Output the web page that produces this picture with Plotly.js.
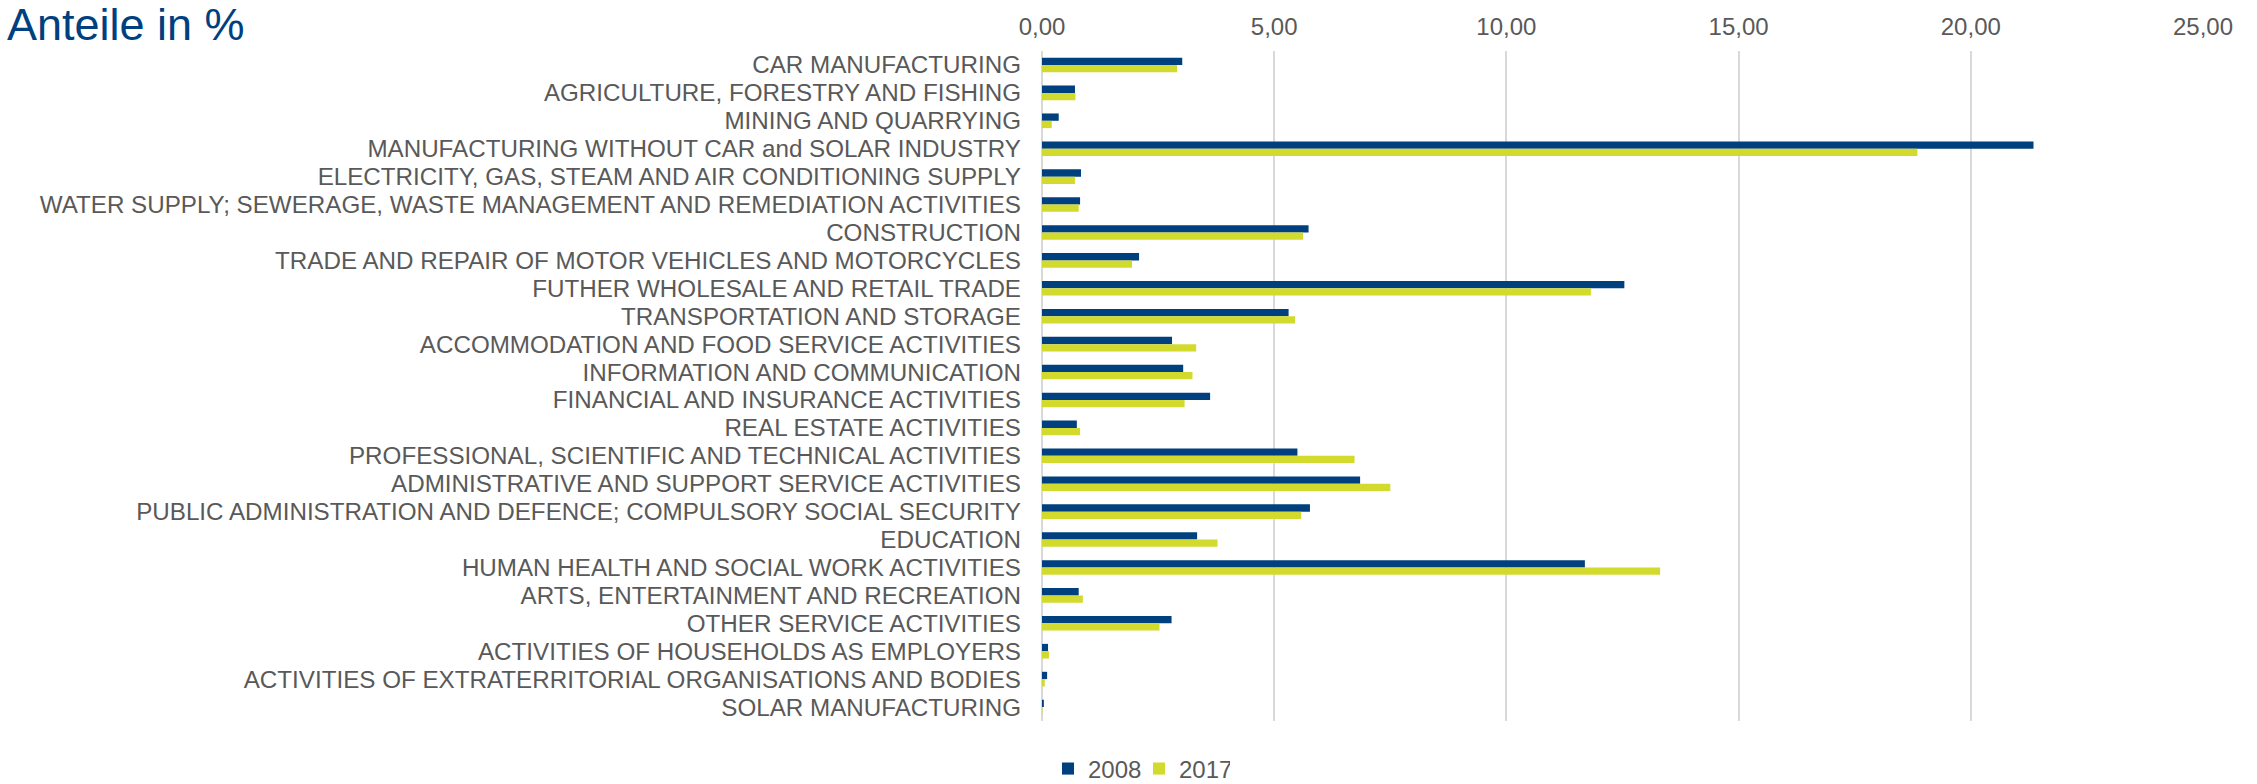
<!DOCTYPE html>
<html>
<head>
<meta charset="utf-8">
<script src="https://cdn.plot.ly/plotly-3.0.1.min.js"></script>
<style>html,body{margin:0;padding:0;background:#fff;}#chart{width:2257px;height:784px;}</style>
</head>
<body>
<div id="chart"></div>
<script>
const categories = [
  "CAR MANUFACTURING",
  "AGRICULTURE, FORESTRY AND FISHING",
  "MINING AND QUARRYING",
  "MANUFACTURING WITHOUT CAR and SOLAR INDUSTRY",
  "ELECTRICITY, GAS, STEAM AND AIR CONDITIONING SUPPLY",
  "WATER SUPPLY; SEWERAGE, WASTE MANAGEMENT AND REMEDIATION ACTIVITIES",
  "CONSTRUCTION",
  "TRADE AND REPAIR OF MOTOR VEHICLES AND MOTORCYCLES",
  "FUTHER WHOLESALE AND RETAIL TRADE",
  "TRANSPORTATION AND STORAGE",
  "ACCOMMODATION AND FOOD SERVICE ACTIVITIES",
  "INFORMATION AND COMMUNICATION",
  "FINANCIAL AND INSURANCE ACTIVITIES",
  "REAL ESTATE ACTIVITIES",
  "PROFESSIONAL, SCIENTIFIC AND TECHNICAL ACTIVITIES",
  "ADMINISTRATIVE AND SUPPORT SERVICE ACTIVITIES",
  "PUBLIC ADMINISTRATION AND DEFENCE; COMPULSORY SOCIAL SECURITY",
  "EDUCATION",
  "HUMAN HEALTH AND SOCIAL WORK ACTIVITIES",
  "ARTS, ENTERTAINMENT AND RECREATION",
  "OTHER SERVICE ACTIVITIES",
  "ACTIVITIES OF HOUSEHOLDS AS EMPLOYERS",
  "ACTIVITIES OF EXTRATERRITORIAL ORGANISATIONS AND BODIES",
  "SOLAR MANUFACTURING"
];
const values2008 = [3.02, 0.71, 0.36, 21.35, 0.84, 0.82, 5.74, 2.09, 12.54, 5.31, 2.80, 3.04, 3.62, 0.75, 5.50, 6.85, 5.77, 3.34, 11.69, 0.79, 2.79, 0.13, 0.11, 0.04];
const values2017 = [2.91, 0.72, 0.21, 18.85, 0.71, 0.79, 5.62, 1.94, 11.82, 5.45, 3.32, 3.24, 3.07, 0.82, 6.73, 7.50, 5.58, 3.78, 13.31, 0.88, 2.53, 0.15, 0.06, 0.01];
const seriesNames = ["2008", "2017"];
const xTicks = [0, 5, 10, 15, 20, 25];

const textColor = "#595959";
const traces = [
  {type: "bar", orientation: "h", name: seriesNames[0], y: categories, x: values2008,
   marker: {color: "#00407F"}, hoverinfo: "x+y"},
  {type: "bar", orientation: "h", name: seriesNames[1], y: categories, x: values2017,
   marker: {color: "#D2DA2E"}, hoverinfo: "x+y"}
];

const layout = {
  width: 2257, height: 784,
  paper_bgcolor: "#ffffff", plot_bgcolor: "#ffffff",
  font: {family: "Liberation Sans, Arial, sans-serif", color: textColor, size: 24},
  separators: ",.",
  margin: {l: 1042, r: 54, t: 51, b: 63, pad: 0},
  barmode: "group",
  bargap: 0.475,
  bargroupgap: 0,
  title: {
    text: "Anteile in %",
    font: {family: "Liberation Sans, Arial, sans-serif", size: 45, color: "#00407F"},
    xref: "container", yref: "container",
    x: 7 / 2257, xanchor: "left",
    y: 1 - 8 / 784, yanchor: "top"
  },
  xaxis: {
    side: "top",
    range: [0, 25],
    tickvals: xTicks,
    tickformat: ".2f",
    showgrid: true, gridcolor: "#D9D9D9", gridwidth: 2,
    zeroline: true, zerolinecolor: "#D9D9D9", zerolinewidth: 2,
    showline: false, ticks: "",
    ticklabelstandoff: 10,
    tickfont: {size: 24, color: textColor},
    fixedrange: true
  },
  yaxis: {
    autorange: "reversed",
    type: "category",
    tickmode: "array",
    tickvals: categories,
    ticktext: categories,
    showgrid: false, zeroline: false, showline: false,
    ticks: "", ticklabelstandoff: 20,
    tickfont: {size: 24.2, color: textColor},
    fixedrange: true
  },
  showlegend: true,
  legend: {
    orientation: "h",
    traceorder: "normal",
    xref: "container", yref: "container",
    x: 1048 / 2257, xanchor: "left",
    y: 15 / 784, yanchor: "middle",
    font: {size: 24, color: textColor},
    itemwidth: 30,
    entrywidth: 46, entrywidthmode: "pixels"
  }
};

Plotly.newPlot("chart", traces, layout, {displayModeBar: false, staticPlot: true});
</script>
</body>
</html>
